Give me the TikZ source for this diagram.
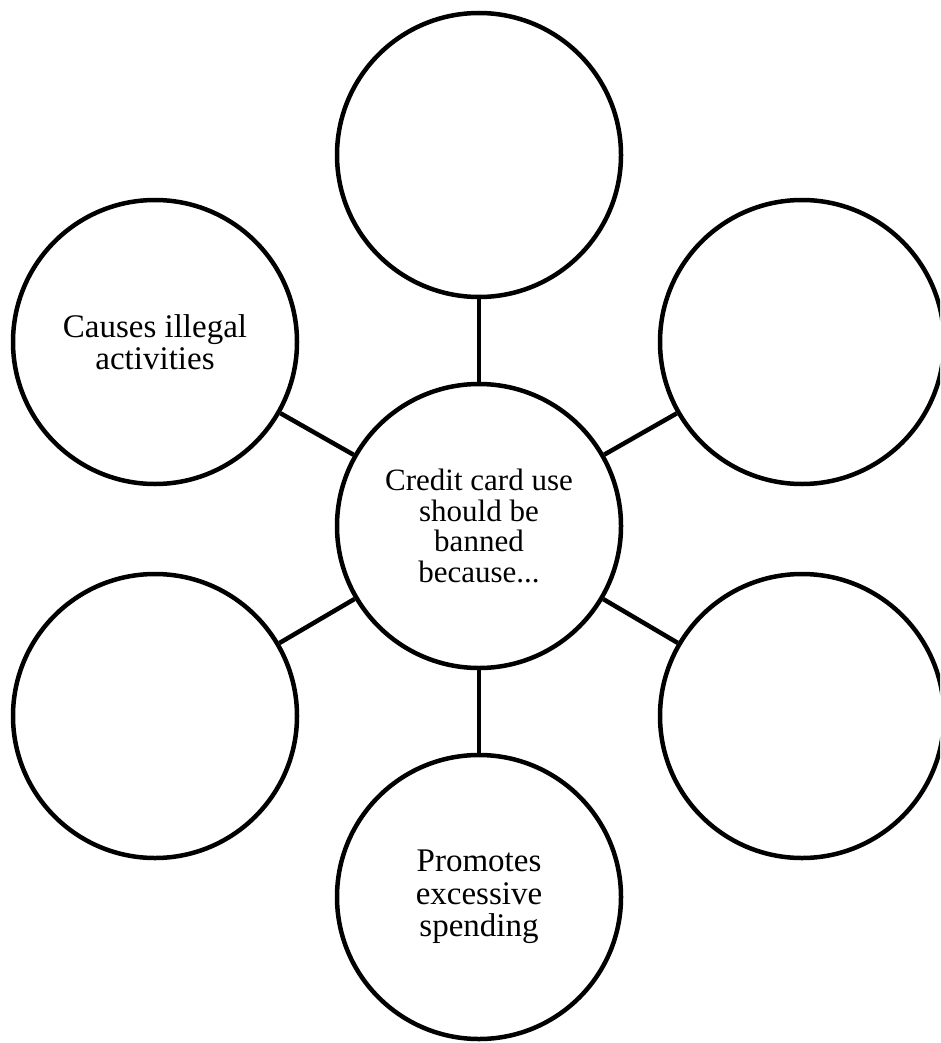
\documentclass[tikz,border=0pt]{standalone}
\usepackage{fontspec}
\setmainfont{Liberation Serif}
\begin{document}
\begin{tikzpicture}[x=1pt,y=-1pt,
  bubble/.style={draw=black, line width=4.5pt, circle, minimum size=284pt, inner sep=0pt, align=center, font=\fontsize{33}{32.5}\selectfont},
  hub/.style={bubble, font=\fontsize{31}{30.7}\selectfont},
  link/.style={draw=black, line width=4.5pt}]
\useasboundingbox (0,0) rectangle (940,1043);
\clip (0,0) rectangle (940,1043);
\node[hub] (c) at (479,526) {Credit card use\\should be\\banned\\because...};
\node[bubble] (t) at (479,155) {};
\node[bubble] (b) at (479,897) {Promotes\\excessive\\spending};
\node[bubble] (ul) at (155,342) {Causes illegal\\activities};
\node[bubble] (ur) at (802,342) {};
\node[bubble] (ll) at (155,716) {};
\node[bubble] (lr) at (802,716) {};
\draw[link] (c) -- (t);
\draw[link] (c) -- (b);
\draw[link] (c) -- (ul);
\draw[link] (c) -- (ur);
\draw[link] (c) -- (ll);
\draw[link] (c) -- (lr);
\end{tikzpicture}
\end{document}
